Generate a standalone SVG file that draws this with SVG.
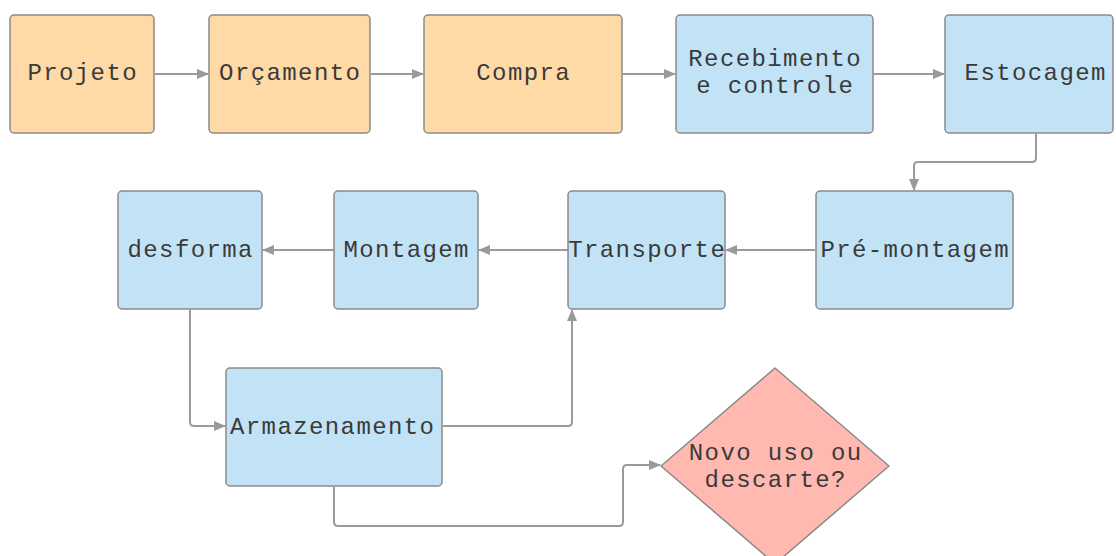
<svg xmlns="http://www.w3.org/2000/svg" width="1116" height="556" viewBox="0 0 1116 556">
<style>
.box{stroke:#8a8a8a;stroke-width:1.5}
.o{fill:#FFD9A6}
.b{fill:#C2E3F6}
.r{fill:#FFB9B0}
text{font-family:"Liberation Mono","DejaVu Sans Mono",monospace;font-size:24px;letter-spacing:1.4px;fill:#3a3a3a;text-anchor:middle}
.c path{fill:none;stroke:#9a9a9a;stroke-width:2}
</style>
<defs>
<marker id="a" markerWidth="12" markerHeight="10" refX="11" refY="5" orient="auto" markerUnits="userSpaceOnUse">
<path d="M0,0 L12,5 L0,10 Z" fill="#9a9a9a"/>
</marker>
</defs>
<rect width="1116" height="556" fill="#fff"/>
<g class="c">
<path d="M155,74 H208" marker-end="url(#a)"/>
<path d="M371,74 H423" marker-end="url(#a)"/>
<path d="M623,74 H675" marker-end="url(#a)"/>
<path d="M874,74 H944" marker-end="url(#a)"/>
<path d="M1036,134 V158 Q1036,162 1032,162 H918 Q914,162 914,166 V190" marker-end="url(#a)"/>
<path d="M815,250 H726" marker-end="url(#a)"/>
<path d="M568,250 H479" marker-end="url(#a)"/>
<path d="M334,250 H263" marker-end="url(#a)"/>
<path d="M190,310 V422 Q190,426 194,426 H225" marker-end="url(#a)"/>
<path d="M443,426 H568 Q572,426 572,422 V310" marker-end="url(#a)"/>
<path d="M334,487 V522 Q334,526 338,526 H619 Q623,526 623,522 V469 Q623,465 627,465 H660" marker-end="url(#a)"/>
</g>
<g id="projeto"><rect class="box o" x="10" y="15" width="144" height="118" rx="4"/><text x="82.7" y="80">Projeto</text></g>
<g id="orcamento"><rect class="box o" x="209" y="15" width="161" height="118" rx="4"/><text x="290.2" y="80">Orçamento</text></g>
<g id="compra"><rect class="box o" x="424" y="15" width="198" height="118" rx="4"/><text x="523.7" y="80">Compra</text></g>
<g id="recebimento"><rect class="box b" x="676" y="15" width="197" height="118" rx="4"/><text x="775.2" y="66">Recebimento</text><text x="775.2" y="93">e controle</text></g>
<g id="estocagem"><rect class="box b" x="945" y="15" width="168" height="118" rx="4"/><text x="1035.7" y="80">Estocagem</text></g>
<g id="premontagem"><rect class="box b" x="816" y="191" width="197" height="118" rx="4"/><text x="915.2" y="257">Pré-montagem</text></g>
<g id="transporte"><rect class="box b" x="568" y="191" width="157" height="118" rx="4"/><text x="647.2" y="257">Transporte</text></g>
<g id="montagem"><rect class="box b" x="334" y="191" width="144" height="118" rx="4"/><text x="406.7" y="257">Montagem</text></g>
<g id="desforma"><rect class="box b" x="118" y="191" width="144" height="118" rx="4"/><text x="190.7" y="257">desforma</text></g>
<g id="armazenamento"><rect class="box b" x="226" y="368" width="216" height="118" rx="4"/><text x="332.7" y="434">Armazenamento</text></g>
<g id="decisao"><path class="box r" d="M775,368 L889,466 L775,564 L661,466 Z" stroke-linejoin="round"/><text x="775.7" y="460">Novo uso ou</text><text x="775.7" y="487">descarte?</text></g>
</svg>
